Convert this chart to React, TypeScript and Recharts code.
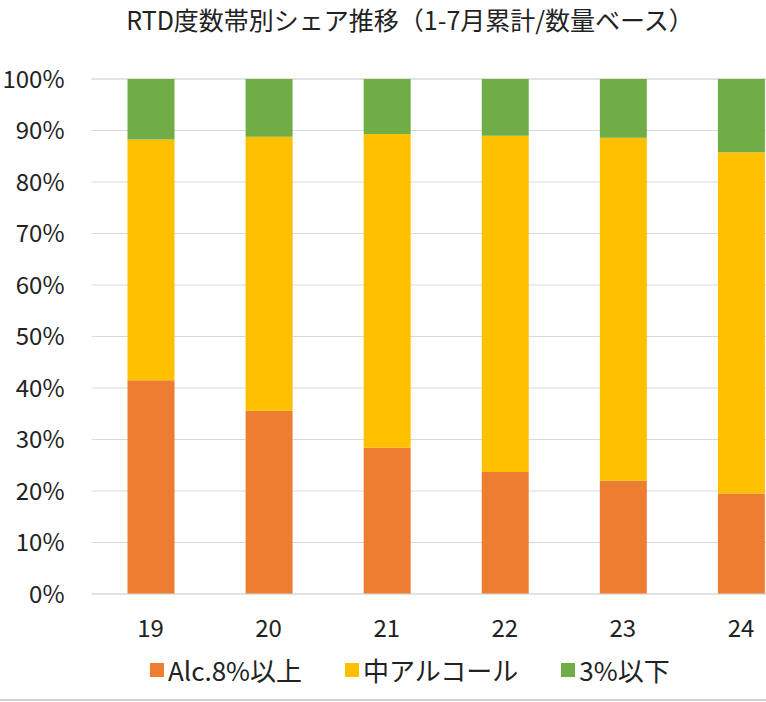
import React from "react";
import { BarChart, Bar, XAxis, YAxis, CartesianGrid } from "recharts";

const years = ["19", "20", "21", "22", "23", "24"];
const high = [41.5, 35.6, 28.4, 23.7, 22.0, 19.5];
const mid = [46.75, 53.2, 60.9, 65.3, 66.6, 66.3];
const low = [11.75, 11.2, 10.7, 11.0, 11.4, 14.2];
const yTicks = [0, 10, 20, 30, 40, 50, 60, 70, 80, 90, 100];
const seriesNames = ["Alc.8%以上", "中アルコール", "3%以下"];
const title = "RTD度数帯別シェア推移（1-7月累計/数量ベース）";

const data = years.map((y, i) => ({ year: y, high: high[i], mid: mid[i], low: low[i] }));

const FONT = '"Noto Sans CJK JP", "Noto Sans", sans-serif';
const colors = ["#ED7D31", "#FFC000", "#70AD47"];

const LegendContent = () => (
  <div style={{ display: "flex", alignItems: "center", fontFamily: FONT, fontSize: 26, color: "#222" }}>
    {seriesNames.map((n, i) => (
      <div key={n} style={{ display: "flex", alignItems: "center", marginRight: i < 2 ? 43 : 0 }}>
        <div style={{ width: 14, height: 14, background: colors[i], marginRight: 4 }} />
        <span>{n}</span>
      </div>
    ))}
  </div>
);

export default function App() {
  return (
    <div style={{ position: "absolute", left: 0, top: 0, width: 766, height: 702, overflow: "hidden", background: "#fff" }}>
      <div style={{ position: "absolute", left: 0, top: 1, width: 820, textAlign: "center", fontFamily: FONT, fontSize: 25, color: "#222", whiteSpace: "nowrap" }}>
        {title}
      </div>
      <div style={{ position: "absolute", left: 0, top: 0 }}>
        <BarChart width={820} height={702} data={data} margin={{ top: 79, right: 20, left: 0, bottom: 48 }}>
          <CartesianGrid vertical={false} stroke="#D9D9D9" />
          <XAxis dataKey="year" axisLine={{ stroke: "#D9D9D9" }} tickLine={false} tickSize={0} tickMargin={26} height={60}
            tick={{ fontFamily: FONT, fontSize: 24, fill: "#222" }} />
          <YAxis domain={[0, 100]} ticks={yTicks} tickFormatter={(v) => `${v}%`} axisLine={false} tickLine={false} tickSize={0}
            tickMargin={27} width={91.5} interval={0} tick={{ fontFamily: FONT, fontSize: 24, fill: "#222" }} />
          <Bar dataKey="high" name={seriesNames[0]} stackId="a" fill={colors[0]} barSize={47} isAnimationActive={false} />
          <Bar dataKey="mid" name={seriesNames[1]} stackId="a" fill={colors[1]} barSize={47} isAnimationActive={false} />
          <Bar dataKey="low" name={seriesNames[2]} stackId="a" fill={colors[2]} barSize={47} isAnimationActive={false} />
        </BarChart>
      </div>
      <div style={{ position: "absolute", left: 150, top: 651 }}>
        <LegendContent />
      </div>
      <div style={{ position: "absolute", left: 0, top: 699, width: 766, height: 2, background: "#D0D0D0" }} />
    </div>
  );
}
